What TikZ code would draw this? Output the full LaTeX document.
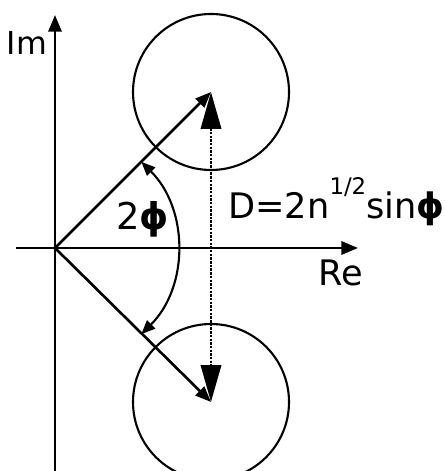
\documentclass[tikz,border=0pt]{standalone}
\usepackage{fontspec}
\setmainfont{DejaVu Sans}
\usetikzlibrary{arrows.meta}

\begin{document}
\begin{tikzpicture}[
  axis/.style={line width=1.6pt, -{Triangle[length=9.5pt,width=7.5pt]}},
  vec/.style={line width=1.5pt, -{Triangle[length=9pt,width=7pt]}},
  gap/.style={line width=1.6pt, dash pattern=on 1.4pt off 0.7pt,
    {Triangle[length=21pt,width=11.5pt]}-{Triangle[length=21pt,width=11.5pt]}},
  swing/.style={line width=1.2pt,
    {Triangle[length=8pt,width=6.5pt]}-{Triangle[length=8pt,width=6.5pt]}},
  spot/.style={circle, draw, line width=1.2pt, minimum size=3.12cm, inner sep=0pt},
  lbl/.style={inner sep=0pt, font=\fontsize{20}{23}\selectfont}]
  \useasboundingbox (-1.1,-4.46) rectangle (7.8,4.96);

  \coordinate (O) at (0,0);
  % axes
  \coordinate (ImBot) at (0,-4.46);
  \coordinate (ImTop) at (0,4.66);
  \coordinate (ReL) at (-0.78,0);
  \coordinate (ReR) at (6.06,0);

  % the two circles, mirror images about Re
  \node[spot] (up) at (3.12,3.12) {};
  \node[spot] (dn) at (3.12,-3.08) {};

  \draw[axis] (ImBot) -- (ImTop);
  \draw[axis] (ReL) -- (ReR);

  \draw[vec] (O) -- (up.center);
  \draw[vec] (O) -- (dn.center);

  % angle 2phi
  \coordinate (a1) at (45:2.44);
  \draw[swing] (a1) arc[start angle=45, end angle=-45, radius=2.44];

  % distance D
  \draw[gap] (up.center) -- (dn.center);

  \node[lbl, font=\fontsize{18}{21}\selectfont] (im) at (-0.56,4.1) {Im};
  \node[lbl] (re) at (5.72,-0.5) {Re};
  \node[lbl, anchor=base west, font=\fontsize{21}{24}\selectfont] (ang) at (1.22,0.36) {2\textbf{ϕ}};
  \node[lbl, anchor=base west] (dist) at (3.46,0.58)
    {D=2n\raisebox{14pt}{\fontsize{13}{15}\selectfont 1/2}sin\textbf{ϕ}};
\end{tikzpicture}
\end{document}
